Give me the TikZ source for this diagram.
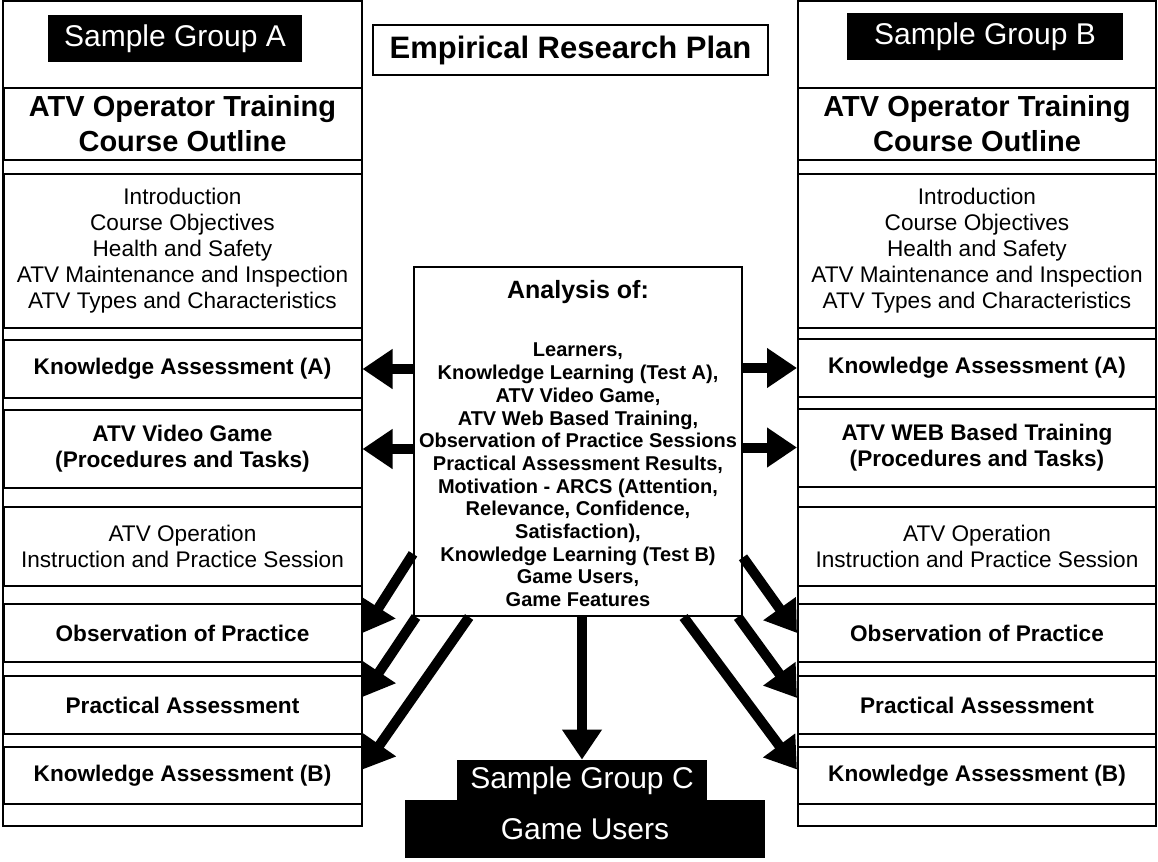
\documentclass[tikz,border=0pt]{standalone}
\usepackage{fontspec}
\setmainfont{Liberation Sans}
\usepackage{tikz}
\usetikzlibrary{positioning, calc, arrows.meta}

\begin{document}
\begin{tikzpicture}[x=0.5pt,y=-0.5pt]
	\tikzstyle{stage}=[draw=black,line width=1pt,minimum width=179pt,inner sep=0pt,align=center,font=\fontsize{11.3}{13}\selectfont]
	\tikzstyle{stagebold}=[stage,font=\bfseries\fontsize{11.3}{13}\selectfont]
	\tikzstyle{heading}=[stage,font=\bfseries\fontsize{14.5}{17.5}\selectfont]
	\tikzstyle{group}=[fill=black,text=white,inner sep=0pt,font=\fontsize{15}{18}\selectfont]
	\tikzstyle{bigarrow}=[line width=5pt,-{Triangle[length=15pt,width=19pt]}]
	\tikzstyle{frame}=[draw=black,line width=0.6pt]
	\useasboundingbox (0,0) rectangle (1158,862);

	% the two course columns
	\draw[frame] (3,1) rectangle (362,826);
	\draw[frame] (798,1) rectangle (1156,826);

	\node[group,minimum width=127pt,minimum height=23.5pt](grpA) at (175,38.5){Sample Group A};
	\node[heading,minimum height=36pt](outlineA) at (182.5,124){ATV Operator Training\\Course Outline};
	\node[stage,minimum height=77pt](topicsA) at (182.5,251){Introduction\\Course Objectives\\Health and Safety\\ATV Maintenance and Inspection\\ATV Types and Characteristics};
	\node[stagebold,minimum height=29pt](kaA) at (182.5,369){Knowledge Assessment (A)};
	\node[stagebold,minimum height=39pt](vgA) at (182.5,449){ATV Video Game\\(Procedures and Tasks)};
	\node[stage,minimum height=39.5pt](opA) at (182.5,546.5){ATV Operation\\Instruction and Practice Session};
	\node[stagebold,minimum height=29pt](obsA) at (182.5,633){Observation of Practice};
	\node[stagebold,minimum height=29pt](paA) at (182.5,705){Practical Assessment};
	\node[stagebold,minimum height=28.5pt](kbA) at (182.5,775.5){Knowledge Assessment (B)};

	\node[group,minimum width=138pt,minimum height=23.5pt](grpB) at (985,36.5){Sample Group B};
	\node[heading,minimum height=36pt](outlineB) at (977,124){ATV Operator Training\\Course Outline};
	\node[stage,minimum height=77pt](topicsB) at (977,251){Introduction\\Course Objectives\\Health and Safety\\ATV Maintenance and Inspection\\ATV Types and Characteristics};
	\node[stagebold,minimum height=29pt](kaB) at (977,368){Knowledge Assessment (A)};
	\node[stagebold,minimum height=39pt](webB) at (977,447.5){ATV WEB Based Training\\(Procedures and Tasks)};
	\node[stage,minimum height=39.5pt](opB) at (977,546){ATV Operation\\Instruction and Practice Session};
	\node[stagebold,minimum height=29pt](obsB) at (977,633){Observation of Practice};
	\node[stagebold,minimum height=29pt](paB) at (977,705){Practical Assessment};
	\node[stagebold,minimum height=28.5pt](kbB) at (977,775.5){Knowledge Assessment (B)};

	% middle
	\node[draw=black,line width=1pt,minimum width=197.5pt,minimum height=25pt,inner sep=0pt,font=\bfseries\fontsize{15.5}{18}\selectfont](plan) at (570.5,50){Empirical Research Plan};
	\node[draw=black,line width=1pt,minimum width=164pt,minimum height=174.5pt,inner sep=0pt](ana) at (578,441.5){};
	\node[font=\bfseries\fontsize{12.5}{15}\selectfont](anaTitle) at (578,292){Analysis of:};
	\node[align=center,font=\bfseries\fontsize{10}{11.35}\selectfont](anaList) at (578,475){Learners,\\Knowledge Learning (Test A),\\ATV Video Game,\\ATV Web Based Training,\\Observation of Practice Sessions\\Practical Assessment Results,\\Motivation - ARCS (Attention,\\Relevance, Confidence,\\Satisfaction),\\Knowledge Learning (Test B)\\Game Users,\\Game Features};

	\node[group,minimum width=180pt,minimum height=29pt](users) at (585,829){Game Users};
	\node[group,minimum width=125pt,minimum height=20pt,text height=10.5pt,text depth=2pt](grpC) at (582,780){Sample Group C};

	% arrows out of the analysis box
	\draw[bigarrow] (ana.west |- kaA.east) -- (kaA.east);
	\draw[bigarrow] (ana.west |- vgA.east) -- (vgA.east);
	\draw[bigarrow] (ana.east |- kaB.west) -- (kaB.west);
	\draw[bigarrow] (ana.east |- webB.west) -- (webB.west);
	\draw[bigarrow] ($(ana.south west)!0.18!(ana.north west)$) -- (obsA.east);
	\draw[bigarrow] ([xshift=1.5pt]ana.south west) -- ([yshift=4pt]paA.east);
	\draw[bigarrow] ($(ana.south west)!0.17!(ana.south east)$) -- ([yshift=3pt]kbA.east);
	\draw[bigarrow] ($(ana.south east)!0.17!(ana.north east)$) -- (obsB.west);
	\draw[bigarrow] ([xshift=-2.5pt]ana.south east) -- ([yshift=3.5pt]paB.west);
	\draw[bigarrow] ($(ana.south west)!0.82!(ana.south east)$) -- ([yshift=3pt]kbB.west);
	\draw[bigarrow] (ana.south -| grpC.north) -- (grpC.north);
\end{tikzpicture}
\end{document}
